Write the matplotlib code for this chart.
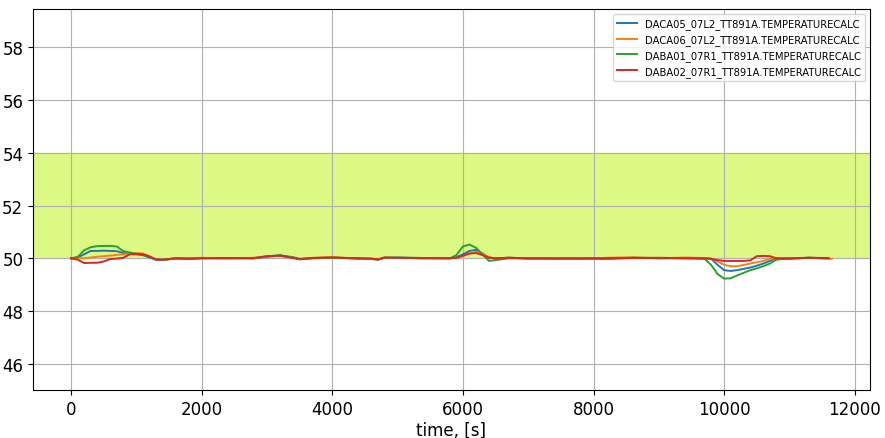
import numpy as np
import matplotlib
matplotlib.use("Agg")
import matplotlib.pyplot as plt

# time grid shared by all four sensors [s]
time_s = [0, 100, 200, 300, 400, 500, 600, 700, 800, 900,
          1000, 1100, 1200, 1300, 1400, 1600, 1800, 2000, 2400, 2800,
          3000, 3200, 3400, 3500, 3700, 4000, 4300, 4600, 4700, 4800,
          5000, 5400, 5800, 5900, 6000, 6100, 6200, 6300, 6400, 6500,
          6700, 7000, 7400, 7800, 8200, 8600, 9000, 9400, 9700, 9800,
          9900, 10000, 10100, 10200, 10300, 10400, 10500, 10600, 10700, 10800,
          11000, 11300, 11600]

daca05 = [50.0, 50.03, 50.15, 50.28, 50.28, 50.29, 50.28, 50.27, 50.2, 50.17,
          50.15, 50.12, 50.03, 49.95, 49.94, 50.0, 49.98, 50.01, 50.0, 50.01,
          50.06, 50.1, 50.03, 49.97, 50.0, 50.03, 50.0, 49.98, 49.95, 50.02,
          50.03, 50.01, 50.0, 50.04, 50.15, 50.28, 50.32, 50.18, 50.03, 50.0,
          50.02, 50.0, 49.99, 50.0, 49.98, 50.02, 50.01, 50.0, 50.0, 49.98,
          49.75, 49.55, 49.52, 49.55, 49.6, 49.65, 49.72, 49.8, 49.9, 50.0,
          49.99, 50.02, 50.0]

daca06 = [50.0, 50.0, 50.0, 50.03, 50.06, 50.08, 50.1, 50.13, 50.15, 50.17,
          50.2, 50.18, 50.08, 49.95, 49.93, 49.99, 50.0, 50.02, 49.99, 50.02,
          50.08, 50.1, 50.02, 49.97, 50.02, 50.05, 50.0, 49.97, 49.94, 50.03,
          50.01, 50.0, 50.01, 50.02, 50.08, 50.18, 50.24, 50.16, 50.05, 49.98,
          50.03, 49.98, 50.01, 49.97, 50.02, 50.04, 50.0, 50.03, 50.01, 49.99,
          49.88, 49.75, 49.7, 49.7, 49.75, 49.8, 49.85, 49.9, 49.98, 50.0,
          49.98, 50.02, 49.98]

daba01 = [50.0, 50.05, 50.3, 50.42, 50.46, 50.47, 50.47, 50.45, 50.27, 50.22,
          50.17, 50.15, 50.05, 49.95, 49.93, 50.0, 49.99, 50.0, 50.01, 50.0,
          50.07, 50.12, 50.04, 49.98, 50.01, 50.02, 50.01, 49.98, 49.96, 50.02,
          50.02, 50.0, 50.0, 50.12, 50.45, 50.52, 50.4, 50.15, 49.9, 49.93,
          50.0, 50.01, 49.98, 50.0, 49.99, 50.02, 50.0, 50.01, 49.98, 49.75,
          49.4, 49.23, 49.24, 49.35, 49.45, 49.55, 49.62, 49.7, 49.8, 49.95,
          50.0, 50.02, 50.01]

daba02 = [50.0, 49.95, 49.82, 49.83, 49.83, 49.88, 49.97, 49.99, 50.02, 50.15,
          50.16, 50.15, 50.07, 49.96, 49.95, 50.0, 49.98, 50.0, 50.01, 50.0,
          50.08, 50.1, 50.01, 49.96, 50.01, 50.03, 50.0, 49.99, 49.96, 50.03,
          50.02, 50.01, 50.0, 50.02, 50.1, 50.18, 50.2, 50.12, 50.02, 50.0,
          50.02, 49.99, 50.0, 49.99, 50.0, 50.01, 50.02, 50.0, 50.0, 49.98,
          49.93, 49.9, 49.9, 49.9, 49.9, 49.92, 50.08, 50.09, 50.08, 50.0,
          49.99, 50.02, 50.0]

# orange trace runs a little longer than the others
daca06_time = time_s[:-1] + [11650]

names = ["DACA05_07L2_TT891A.TEMPERATURECALC",
         "DACA06_07L2_TT891A.TEMPERATURECALC",
         "DABA01_07R1_TT891A.TEMPERATURECALC",
         "DABA02_07R1_TT891A.TEMPERATURECALC"]

band_low, band_high = 50, 54

fig = plt.figure(figsize=(8.85, 4.39), dpi=100)
ax = fig.add_axes([0.0373, 0.109, 0.9457, 0.868])

ax.axhspan(band_low, band_high, color="#dcf983", zorder=0)
ax.plot(time_s, daca05, color="tab:blue", lw=1.4, label=names[0])
ax.plot(daca06_time, daca06, color="tab:orange", lw=1.4, label=names[1])
ax.plot(time_s, daba01, color="tab:green", lw=1.4, label=names[2])
ax.plot(time_s, daba02, color="tab:red", lw=1.4, label=names[3])

ax.set_ylim(45, 59.45)
ax.set_yticks([46, 48, 50, 52, 54, 56, 58])
ax.set_xticks([0, 2000, 4000, 6000, 8000, 10000, 12000])
ax.tick_params(labelsize=12)
ax.set_xlabel("time, [s]", fontsize=12, labelpad=2)
ax.grid(True, color="#b0b0b0")
ax.legend(loc="upper right", fontsize=7.2)

fig.savefig("out.png", dpi=100)
